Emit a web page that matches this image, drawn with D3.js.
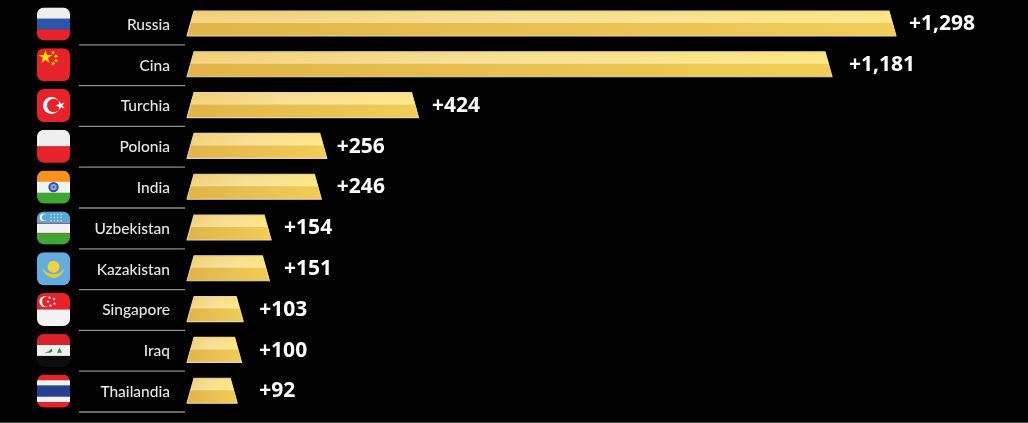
<!DOCTYPE html>
<html>
<head>
<meta charset="utf-8">
<style>
html,body{margin:0;padding:0;background:#000;overflow:hidden}
svg{display:block}
text{font-family:"Lato","Noto Sans",sans-serif}
text.value{font-family:"Open Sans",sans-serif}
</style>
<script src="https://cdn.jsdelivr.net/npm/d3@7/dist/d3.min.js"></script>
</head>
<body>
<svg id="chart" width="1028" height="423"></svg>
<script>
// Net central-bank gold purchases by country
const countries = ["Russia","Cina","Turchia","Polonia","India","Uzbekistan","Kazakistan","Singapore","Iraq","Thailandia"];
const tonnes = [1298,1181,424,256,246,154,151,103,100,92];
const valueLabels = ["+1,298","+1,181","+424","+256","+246","+154","+151","+103","+100","+92"];

// Horizontal flag bands, top to bottom: [colour, share of flag height]
const flagBands = [
  [["#efefef",.34],["#2b55a8",.33],["#e62429",.33]],
  [["#e62429",1]],
  [["#e62429",1]],
  [["#efefef",.5],["#e62429",.5]],
  [["#f7931e",.34],["#f2f2f2",.33],["#3fa535",.33]],
  [["#5aa9dc",.36],["#c8504f",.02],["#f2f2f2",.27],["#c8504f",.02],["#3fa535",.33]],
  [["#62ace0",1]],
  [["#e62429",.5],["#f2f2f2",.5]],
  [["#d8232a",.34],["#f0f0f0",.33],["#0b0b0b",.33]],
  [["#e62429",.17],["#f2f2f2",.16],["#27408f",.34],["#f2f2f2",.16],["#e62429",.17]]
];

const width = 1028, height = 423;
const svg = d3.select("#chart").attr("viewBox", [0,0,width,height]);
svg.append("rect").attr("width",width).attr("height",height).attr("fill","#000");

const x = d3.scaleLinear().domain([0,1298]).range([187,896]);
const y = d3.scaleBand().domain(countries).range([4,412]);
const rowH = y.bandwidth();

// Space between each bar's tip and its value label
const labelGaps = [13,17,13.5,10,15.5,13,14.5,16,17.5,22];

const defs = svg.append("defs");
const stop = (g,o,c,a=1)=>g.append("stop").attr("offset",o).attr("stop-color",c).attr("stop-opacity",a);
const topG = defs.append("linearGradient").attr("id","barTop");
stop(topG,"0%","#f1cf72"); stop(topG,"45%","#f6dc8c"); stop(topG,"100%","#fde47c");
const sheen = defs.append("linearGradient").attr("id","barSheen").attr("x2",0).attr("y2",1);
stop(sheen,"0%","#fff",0); stop(sheen,"100%","#fff",.16);
const botG = defs.append("linearGradient").attr("id","barBottom");
stop(botG,"0%","#e2b448"); stop(botG,"50%","#e8c052"); stop(botG,"100%","#f2cd58");
defs.append("filter").attr("id","soft").append("feGaussianBlur").attr("stdDeviation",.55);
defs.append("clipPath").attr("id","flagClip").append("rect")
  .attr("width",33).attr("height",33).attr("rx",7);

const line = d3.line();
const root = svg.append("g").attr("filter","url(#soft)");
const rows = root.selectAll("g.row").data(countries).join("g").attr("class","row")
  .attr("transform",d=>`translate(0,${y(d)})`);

// Row separators
rows.append("line").attr("x1",79).attr("x2",185).attr("y1",rowH).attr("y2",rowH)
  .attr("stroke","#8c8c8c").attr("stroke-width",1.3);

// Country names
rows.append("text").attr("x",170).attr("y",rowH/2+1.5).attr("text-anchor","end")
  .attr("dominant-baseline","middle").attr("fill","#e6e6e6")
  .attr("font-size",15.5).attr("font-weight",500).text(d=>d);

// Gold bars: a sloped trapezoid with a lighter upper half
const barTop = 7, barH = 25, inset = 7, split = .48;
const bars = rows.append("g").attr("transform",`translate(0,${barTop})`);
const upperHalf = (d,i)=>{
  const t = inset*split;
  return line([[x(0)+inset-t,barH*split],[x(0)+inset,.5],[x(tonnes[i])-inset,.5],[x(tonnes[i])-inset+t,barH*split]])+"Z";
};
bars.append("path")
  .attr("d",(d,i)=>line([[x(0),barH],[x(0)+inset,0],[x(tonnes[i])-inset,0],[x(tonnes[i]),barH]])+"Z")
  .attr("fill","url(#barBottom)").attr("stroke","#e9d6a3").attr("stroke-width",1.1).attr("stroke-linejoin","round");
bars.append("path").attr("d",upperHalf).attr("fill","url(#barTop)");
bars.append("path").attr("d",upperHalf).attr("fill","url(#barSheen)");

// Value labels
rows.append("text").attr("class","value").attr("x",(d,i)=>x(tonnes[i])+labelGaps[i]).attr("y",barTop+barH/2+1)
  .attr("dominant-baseline","middle").attr("fill","#fff")
  .attr("font-size",21).attr("font-weight",700).text((d,i)=>valueLabels[i]);

// Flags: rounded squares filled with stripes
const flags = rows.append("g").attr("transform",`translate(37,${(rowH-33)/2-.5})`)
  .append("g").attr("clip-path","url(#flagClip)");
flags.each(function(d,i){
  const g = d3.select(this);
  const fy = d3.scaleLinear().range([0,33]);
  let acc = 0;
  flagBands[i].forEach(([c,s])=>{
    g.append("rect").attr("y",fy(acc)).attr("width",33).attr("height",fy(s)+.3).attr("fill",c);
    acc += s;
  });
  const star = (cx,cy,r,fill,rot=0)=>g.append("path")
    .attr("d",d3.symbol(d3.symbolStar,r*r*3.2)())
    .attr("transform",`translate(${cx},${cy}) rotate(${rot})`).attr("fill",fill);
  const circle = (cx,cy,r,fill)=>g.append("circle").attr("cx",cx).attr("cy",cy).attr("r",r).attr("fill",fill);
  if(d==="Cina"){
    star(8.5,9,4.2,"#ffde00");
    star(16,4.5,1.4,"#ffde00",20); star(19,8,1.4,"#ffde00",40);
    star(19,12.5,1.4,"#ffde00",0); star(16,15.5,1.4,"#ffde00",20);
  }
  if(d==="Turchia"){
    circle(14.5,16.5,8.5,"#fff"); circle(16.8,16.5,6.8,"#e62429");
    star(23.5,16.5,3,"#fff",-18);
  }
  if(d==="India"){
    circle(16.5,16.5,5.2,"#2b55a8"); circle(16.5,16.5,3.2,"#8fa8d8"); circle(16.5,16.5,1.1,"#2b55a8");
  }
  if(d==="Uzbekistan"){
    circle(6.5,6,3.7,"#fff"); circle(8,6,3.1,"#5aa9dc");
    d3.range(3).forEach(r=>d3.range(4).forEach(c=>circle(14+c*3.4,3+r*3.2,.75,"#d5e8f5")));
  }
  if(d==="Kazakistan"){
    circle(16.5,14.5,6,"#f4d23c");
    g.append("path").attr("d","M5 15 Q8 25 16.5 26 Q25 25 28 15 Q25 21 16.5 22 Q8 21 5 15Z").attr("fill","#e9c93a");
  }
  if(d==="Singapore"){
    circle(8,8.5,5.6,"#fff"); circle(10.2,8.5,5.2,"#e62429");
    [[12,4.5],[16.5,6],[17,10.5],[13,12.5],[10.5,8.5]].forEach(p=>star(p[0]+.5,p[1],1.05,"#fff"));
  }
  if(d==="Iraq"){
    g.append("path").attr("d","M7 19 L12 17.5 L14.5 14.5 L15.5 17.5 L13 19Z").attr("fill","#2f8a3c");
    g.append("path").attr("d","M20 19 L22.5 14 L25 19Z").attr("fill","#2f8a3c");
  }
});

// Faint rule closing the frame at the bottom
svg.append("line").attr("x1",0).attr("x2",width).attr("y1",422.5).attr("y2",422.5).attr("stroke","#4a4a4a");
</script>
</body>
</html>
